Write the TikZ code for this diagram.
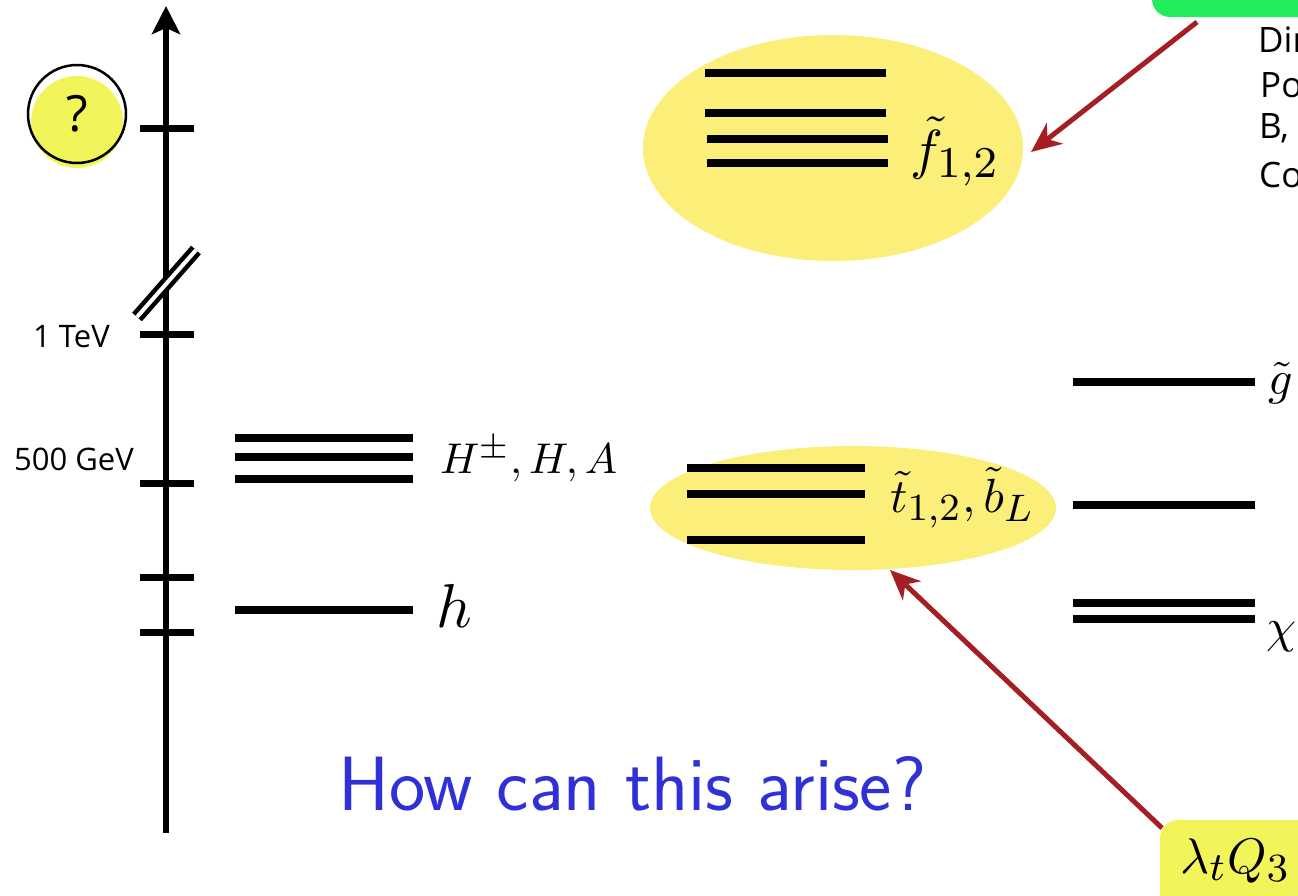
\documentclass[tikz,border=0pt]{standalone}
\usepackage{graphicx}
\usepackage{fontspec}
\newfontfamily\osans{Open Sans}
\DeclareMathSizes{10}{10}{8}{6}
\usetikzlibrary{shapes.geometric,arrows.meta}
\definecolor{ellyellow}{RGB}{251,239,122}
\definecolor{limeyellow}{RGB}{242,245,90}
\definecolor{boxgreen}{RGB}{34,236,92}
\definecolor{arrred}{RGB}{165,30,35}
\definecolor{textblue}{RGB}{48,48,215}
\tikzset{
  lvl/.style={line width=8pt},
  tickmark/.style={line width=7pt},
  axisline/.style={line width=6pt,-{Stealth[length=28pt,width=28pt,inset=6pt]}},
  redarrow/.style={draw=arrred,line width=5pt,-{Stealth[length=30pt,width=26pt,inset=9pt]}},
  mlab/.style={anchor=base west,inner sep=0pt},
  axlab/.style={anchor=base east,inner sep=0pt,font=\osans\fontsize{31}{36}\selectfont},
  sidelab/.style={anchor=base west,inner sep=0pt,font=\osans\fontsize{35}{40}\selectfont},
  blob/.style={ellipse,fill=ellyellow,inner sep=0pt},
}
\begin{document}
\begin{tikzpicture}[x=1pt,y=-1pt]
\useasboundingbox (0,0) rectangle (1298,895);
\clip (0,0) rectangle (1298,895);

% yellow blobs
\node[blob,minimum width=380pt,minimum height=226pt] (fblob) at (833,148) {};
\node[blob,minimum width=406pt,minimum height=124pt] (tblob) at (853,508) {};

% green box (top right)
\node[fill=boxgreen,rounded corners=18pt,minimum width=200pt,minimum height=60pt,inner sep=0pt] (gbox) at (1252,-13) {};
% yellow box (bottom right)
\node[fill=limeyellow,rounded corners=18pt,minimum width=200pt,minimum height=110pt,inner sep=0pt] (lbox) at (1260,875) {};

% vertical axis
\coordinate (abot) at (166,833);
\coordinate (atop) at (166,6);
\draw[axisline] (abot) -- (atop);
\foreach \yy in {128,334,483,577,632}
  \draw[tickmark] (140,\yy) -- (194,\yy);
% axis break
\coordinate (brA) at (137,317);
\coordinate (brB) at (196,250);
\draw[line width=4.5pt,double=white,double distance=4pt] (brA) -- (brB);

% axis labels
\node[axlab] (tev) at (110,347) {1 TeV};
\node[axlab] (gev) at (134,470) {500 GeV};

% question mark circle
\fill[limeyellow] (77,122) circle[radius=46pt];
\node[circle,draw=black,line width=2.5pt,minimum size=98pt,inner sep=0pt,font=\osans\fontsize{50}{56}\selectfont] (qm) at (77,114) {?};

% Higgs levels
\foreach \yy in {438,457,479}
  \draw[lvl] (235,\yy) -- (413,\yy);
\draw[lvl] (235,610) -- (413,610);
\node[mlab] (hlab) at (440,473) {\scalebox{4.3}{$H^{\pm},H,A$}};
\node[mlab] (llab) at (436,627) {\scalebox{6.2}{$h$}};

% first two generation sfermions
\foreach \yy in {73,113} \draw[lvl] (705,\yy) -- (886,\yy);
\foreach \yy in {139,163} \draw[lvl] (707,\yy) -- (888,\yy);
\node[mlab] (flab) at (910,168) {\scalebox{5.5}{$\tilde f_{1,2}$}};

% third generation
\foreach \yy in {468,494,540} \draw[lvl] (687,\yy) -- (865,\yy);
\node[mlab] (tlab) at (890,512) {\scalebox{4.8}{$\tilde t_{1,2},\tilde b_L$}};

% right levels
\draw[lvl] (1073,382) -- (1255,382);
\draw[lvl] (1073,505) -- (1255,505);
\draw[lvl] (1073,603) -- (1255,603);
\draw[lvl] (1073,619) -- (1255,619);
\node[mlab] (glab) at (1268,394) {\scalebox{4.8}{$\tilde g$}};
\node[mlab] (clab) at (1266,642) {\scalebox{4.8}{$\chi$}};

% partial side texts
\node[sidelab] (s1) at (1258,52) {Dir};
\node[sidelab] (s2) at (1260,97) {Po};
\node[sidelab] (s3) at (1259,138) {B,};
\node[sidelab] (s4) at (1259,187) {Co};

% lambda text
\node[mlab] (lam) at (1180,873) {\scalebox{5.0}{$\lambda_t Q_3$}};

% arrows
\coordinate (gtail) at (1197,22);
\coordinate (ftip) at (1031,152);
\draw[redarrow] (gtail) -- (ftip);
\coordinate (ltail) at (1162,828);
\coordinate (ttip) at (890,570);
\draw[redarrow] (ltail) -- (ttip);

% question
\node[anchor=base west,inner sep=0pt,text=textblue,font=\sffamily\fontsize{77}{84}\selectfont] (how) at (338,810) {How can this arise?};
\end{tikzpicture}
\end{document}
